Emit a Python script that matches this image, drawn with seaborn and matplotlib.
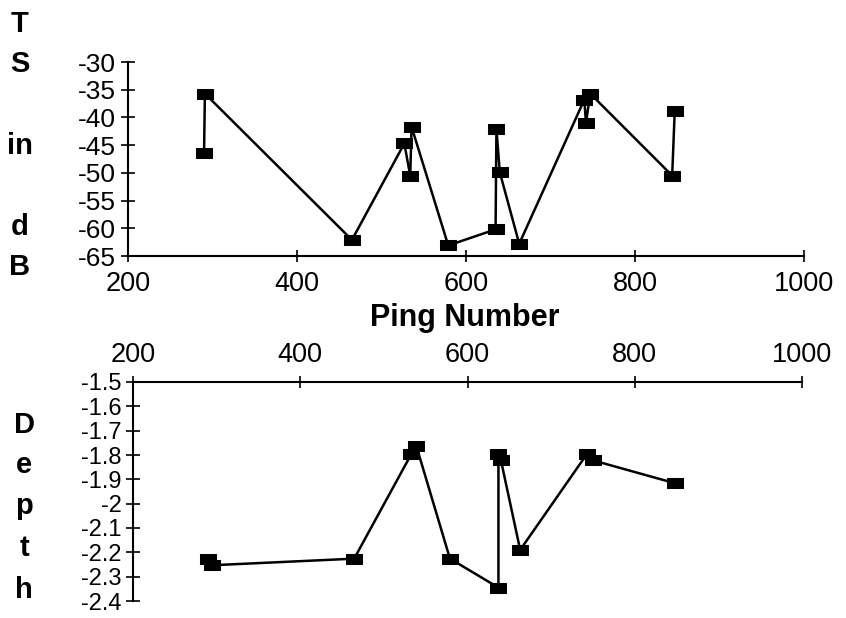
import numpy as np
import pandas as pd
import matplotlib
matplotlib.use("Agg")
import matplotlib.pyplot as plt
import seaborn as sns
from matplotlib.path import Path

# TS (dB) por número de ping
ping_ts = [290, 291, 465, 527, 534, 535.6, 579, 635, 636, 640, 663, 740, 742, 747, 844, 847]
ts_db = [-46.4, -35.7, -62.1, -44.7, -50.5, -41.7, -63.1, -60.2, -42.1, -49.9, -62.8,
         -36.8, -41.0, -35.7, -50.5, -38.9]

# Profundidad por número de ping
ping_depth = [290, 295, 464.5, 533, 539, 579, 637, 637, 640, 663, 743, 750, 848]
depth = [-2.226, -2.253, -2.226, -1.795, -1.765, -2.226, -2.345, -1.795, -1.822,
         -2.19, -1.795, -1.822, -1.916]

x_ticks = [200, 400, 600, 800, 1000]
ts_ticks = [-30, -35, -40, -45, -50, -55, -60, -65]
depth_ticks = [-1.5, -1.6, -1.7, -1.8, -1.9, -2.0, -2.1, -2.2, -2.3, -2.4]
depth_labels = ["-1.5", "-1.6", "-1.7", "-1.8", "-1.9", "-2", "-2.1", "-2.2", "-2.3", "-2.4"]

sns.set_style("white")
plt.rcParams['font.family'] = ['Liberation Sans', 'DejaVu Sans']
plt.rcParams['axes.unicode_minus'] = False
plt.rcParams['text.color'] = 'black'
plt.rcParams['xtick.color'] = 'black'
plt.rcParams['ytick.color'] = 'black'

df_ts = pd.DataFrame({"ping": ping_ts, "ts": ts_db})
df_depth = pd.DataFrame({"ping": ping_depth, "depth": depth})

# marcador rectangular algo achatado
rect = Path([(-1, -0.68), (1, -0.68), (1, 0.68), (-1, 0.68), (-1, -0.68)], closed=True)

W, H = 846, 618
fig = plt.figure(figsize=(W / 100, H / 100), dpi=100)
ax1 = fig.add_axes([128 / W, 1 - 256 / H, (804 - 128) / W, (256 - 62) / H])
ax2 = fig.add_axes([133 / W, 1 - 601 / H, (802 - 133) / W, (601 - 382) / H])

line_kws = dict(color="black", linewidth=1.8, marker=rect, markersize=11.5,
                markerfacecolor="black", markeredgecolor="black",
                sort=False, estimator=None, clip_on=False)

sns.lineplot(data=df_ts, x="ping", y="ts", ax=ax1, **line_kws)
sns.lineplot(data=df_depth, x="ping", y="depth", ax=ax2, **line_kws)

# panel superior
ax1.set_xlim(200, 1000)
ax1.set_ylim(-65, -30)
ax1.set_xticks(x_ticks)
ax1.set_yticks(ts_ticks)
ax1.set_yticklabels([str(t) for t in ts_ticks])
for s in ["top", "right"]:
    ax1.spines[s].set_visible(False)
ax1.tick_params(axis="x", bottom=True, direction="inout", length=8, width=1.2,
                colors="black", labelsize=19.5, pad=7)
ax1.tick_params(axis="y", left=True, direction="inout", length=10, width=1.2,
                colors="black", labelsize=19, pad=4)
ax1.set_xlabel("")
ax1.set_ylabel("")

# panel inferior, eje x arriba
ax2.set_xlim(200, 1000)
ax2.set_ylim(-2.4, -1.5)
ax2.set_xticks(x_ticks)
ax2.set_yticks(depth_ticks)
ax2.set_yticklabels(depth_labels)
ax2.xaxis.tick_top()
for s in ["bottom", "right"]:
    ax2.spines[s].set_visible(False)
ax2.tick_params(axis="x", top=True, bottom=False, direction="inout", length=8, width=1.2,
                colors="black", labelsize=19.5, pad=6)
ax2.tick_params(axis="y", left=True, direction="inout", length=10, width=1.2,
                colors="black", labelsize=17, pad=3)
ax2.set_xlabel("")
ax2.set_ylabel("")

for ax in (ax1, ax2):
    for sp in ax.spines.values():
        sp.set_linewidth(1.5)
        sp.set_color("black")

# etiquetas verticales letra a letra
for txt, y in [("T", 24), ("S", 64), ("in", 146), ("d", 227), ("B", 267)]:
    fig.text(20 / W, 1 - y / H, txt, ha="center", va="center", fontsize=21, weight="bold")
for txt, y in [("D", 425), ("e", 465), ("p", 506), ("t", 548), ("h", 590)]:
    fig.text(24 / W, 1 - y / H, txt, ha="center", va="center", fontsize=21, weight="bold")

fig.text(465 / W, 1 - 318 / H, "Ping Number", ha="center", va="center",
         fontsize=22, weight="bold")

fig.savefig("out.png", dpi=100)
